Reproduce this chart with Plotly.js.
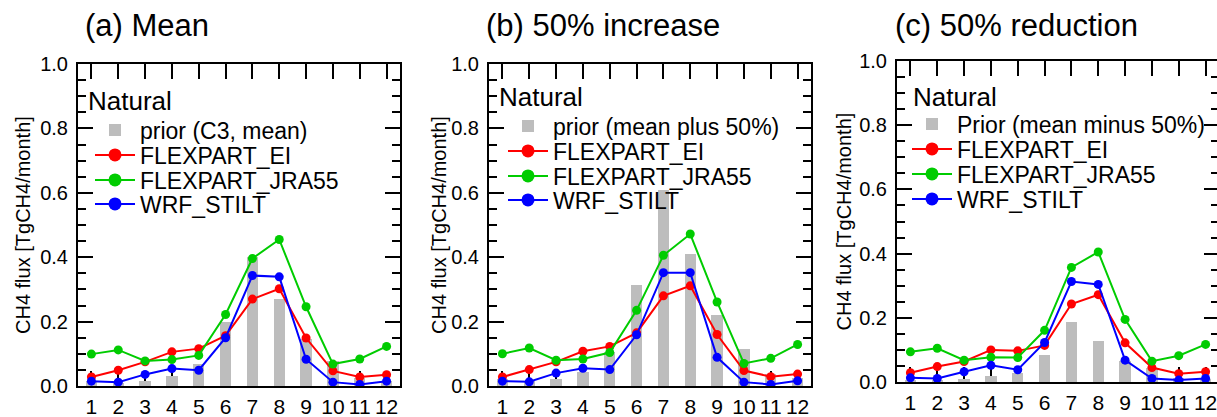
<!DOCTYPE html>
<html><head><meta charset="utf-8">
<script src="https://cdn.plot.ly/plotly-3.0.1.min.js"></script>
<style>html,body{margin:0;padding:0;overflow:hidden;background:#fff}#chart{width:1222px;height:417px}</style>
</head><body><div id="chart"></div>
<script>
// ---- data ----
const months = [1,2,3,4,5,6,7,8,9,10,11,12];
const monthLabels = ['1','2','3','4','5','6','7','8','9','10','11','12'];

const priorMean  = [0.015,0.010,0.015,0.030,0.068,0.200,0.400,0.270,0.145,0.077,0.025,0.015];
const priorPlus  = [0.023,0.015,0.023,0.044,0.106,0.315,0.609,0.410,0.220,0.114,0.038,0.025];
const priorMinus = [0.006,0.005,0.010,0.018,0.028,0.083,0.186,0.127,0.064,0.044,0.012,0.008];

const eiMean  = [0.028,0.049,0.075,0.106,0.116,0.156,0.270,0.302,0.149,0.047,0.028,0.035];
const jraMean = [0.099,0.112,0.078,0.082,0.095,0.222,0.396,0.455,0.246,0.068,0.084,0.123];
const wrfMean = [0.015,0.012,0.036,0.054,0.049,0.150,0.343,0.339,0.083,0.012,0.005,0.015];

const eiPlus  = [0.028,0.051,0.075,0.108,0.123,0.165,0.280,0.311,0.160,0.048,0.029,0.037];
const jraPlus = [0.100,0.118,0.080,0.084,0.104,0.235,0.406,0.472,0.261,0.070,0.086,0.129];
const wrfPlus = [0.015,0.013,0.040,0.055,0.051,0.159,0.352,0.352,0.089,0.012,0.005,0.016];

const eiMinus  = [0.029,0.048,0.064,0.100,0.097,0.114,0.243,0.272,0.122,0.045,0.026,0.032];
const jraMinus = [0.094,0.105,0.068,0.077,0.076,0.161,0.357,0.405,0.195,0.065,0.082,0.117];
const wrfMinus = [0.013,0.011,0.032,0.052,0.038,0.123,0.313,0.304,0.068,0.011,0.006,0.011];

const panelTitles = ['(a) Mean','(b) 50% increase','(c) 50% reduction'];
const priorNames  = ['prior (C3, mean)','prior (mean plus 50%)','Prior (mean minus 50%)'];
const seriesNames = ['FLEXPART_EI','FLEXPART_JRA55','WRF_STILT'];
const legendHeading = 'Natural';
const yAxisLabel = 'CH4 flux [TgCH4/month]';

const priors = [priorMean, priorPlus, priorMinus];
const series = [[eiMean,jraMean,wrfMean],[eiPlus,jraPlus,wrfPlus],[eiMinus,jraMinus,wrfMinus]];

// ---- styling / geometry (pixels) ----
const W = 1222, H = 417;
const colors = ['#ff0000','#00cc00','#0000ff'];
const barColor = '#bdbdbd';
const FONT = 'Liberation Sans, Arial, Helvetica, sans-serif';
const panels = [
  {x0:78,  x1:400,  y0:64, y1:386, titleX:83,  headX:86,  headY:101, legX:90,  rows:[130,155,180,204], yTitleX:23},
  {x0:489, x1:811,  y0:64, y1:386, titleX:484, headX:497, headY:97,  legX:503, rows:[126,151,176,200], yTitleX:439},
  {x0:897, x1:1219, y0:61, y1:382, titleX:893, headX:911, headY:97,  legX:907, rows:[124,149,174,199], yTitleX:843}
];
const px = v => v / W;
const py = v => (H - v) / H;

const traces = [];
const layout = {
  width: W, height: H,
  margin: {l:0, r:0, t:0, b:0},
  paper_bgcolor: '#fff', plot_bgcolor: 'rgba(0,0,0,0)',
  font: {family: FONT, color: '#000'},
  showlegend: true,
  bargap: 0,
  annotations: []
};

function legendId(i){ return i === 0 ? 'legend' : 'legend' + (i + 1); }

panels.forEach((P, p) => {
  const sfx = p === 0 ? '' : String(p + 1);
  const xa = 'x' + sfx, ya = 'y' + sfx;
  layout['xaxis' + sfx] = {
    domain: [px(P.x0), px(P.x1)], anchor: ya,
    range: [0.5, 12.5], tickmode: 'array', tickvals: months, ticktext: monthLabels,
    ticks: 'inside', ticklen: 15, tickwidth: 2, tickcolor: '#000',
    showline: true, linewidth: 2, linecolor: '#000', mirror: 'ticks',
    showgrid: false, zeroline: false, layer: 'below traces',
    tickfont: {size: 21, family: FONT, color: '#000'}, ticklabelstandoff: 1,
    fixedrange: true
  };
  layout['yaxis' + sfx] = {
    domain: [py(P.y1), py(P.y0)], anchor: xa,
    range: [0, 1], dtick: 0.2, tick0: 0, tickformat: '.1f',
    ticks: 'inside', ticklen: 15, tickwidth: 2, tickcolor: '#000',
    minor: {dtick: 0.05, tick0: 0, ticks: 'inside', ticklen: 8, tickwidth: 2, tickcolor: '#000', showgrid: false},
    showline: true, linewidth: 2, linecolor: '#000', mirror: 'ticks',
    showgrid: false, zeroline: false,
    tickfont: {size: 20, family: FONT, color: '#000'}, ticklabelstandoff: 4,
    fixedrange: true
  };

  // bars
  traces.push({
    type: 'bar', x: months, y: priors[p], width: 0.42,
    marker: {color: barColor, line: {width: 0}},
    name: priorNames[p], legend: legendId(p*4), xaxis: xa, yaxis: ya,
    hoverinfo: 'skip'
  });
  // lines (plot marks, legend entries handled by key traces below)
  series[p].forEach((s, k) => {
    traces.push({
      type: 'scatter', mode: 'lines+markers', x: months, y: s,
      line: {color: colors[k], width: 2},
      marker: {color: colors[k], size: 9, line: {width: 0}},
      name: seriesNames[k], showlegend: false, xaxis: xa, yaxis: ya,
      hoverinfo: 'skip'
    });
  });
  // legend keys: larger symbols as in the reference legend, no data drawn
  series[p].forEach((s, k) => {
    traces.push({
      type: 'scatter', mode: 'lines+markers', x: [null], y: [null],
      line: {color: colors[k], width: 2},
      marker: {color: colors[k], size: 13, line: {width: 0}},
      name: seriesNames[k], legend: legendId(p*4 + k + 1), xaxis: xa, yaxis: ya,
      hoverinfo: 'skip'
    });
  });

  // legends (one entry each so rows can follow the reference spacing)
  for (let r = 0; r < 4; r++) {
    layout[legendId(p*4 + r)] = {
      x: px(P.legX), xanchor: 'left',
      y: py(P.rows[r]), yanchor: 'middle',
      bgcolor: 'rgba(0,0,0,0)', borderwidth: 0,
      font: {size: 23, family: FONT, color: '#000'},
      itemwidth: 40, itemsizing: 'trace', itemclick: false, itemdoubleclick: false
    };
  }

  // panel title
  layout.annotations.push({
    text: panelTitles[p], xref: 'paper', yref: 'paper',
    x: px(P.titleX), y: py(26), xanchor: 'left', yanchor: 'middle',
    showarrow: false, font: {size: 31, family: FONT, color: '#000'}
  });
  // legend heading
  layout.annotations.push({
    text: legendHeading, xref: 'paper', yref: 'paper',
    x: px(P.headX), y: py(P.headY), xanchor: 'left', yanchor: 'middle',
    showarrow: false, font: {size: 26, family: FONT, color: '#000'}
  });
  // y-axis title
  layout.annotations.push({
    text: yAxisLabel, xref: 'paper', yref: 'paper', textangle: -90,
    x: px(P.yTitleX), y: py((P.y0 + P.y1) / 2), xanchor: 'center', yanchor: 'middle',
    showarrow: false, font: {size: 20, family: FONT, color: '#000'}
  });
});

Plotly.newPlot('chart', traces, layout, {staticPlot: true, displayModeBar: false});
</script>
</body></html>
